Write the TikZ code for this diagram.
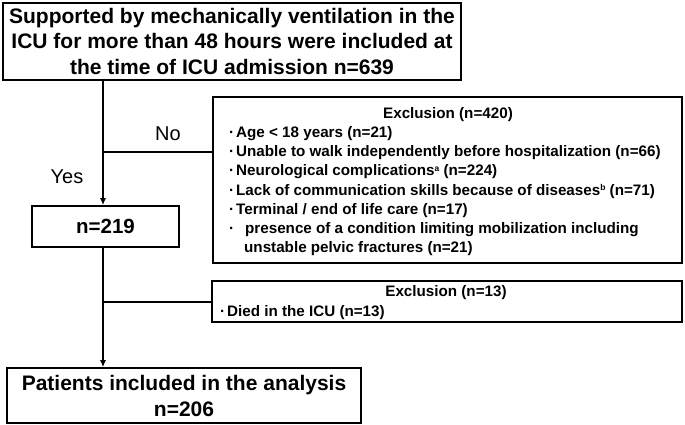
\documentclass[tikz,border=0pt]{standalone}
\usepackage{fontspec}
\setmainfont{Liberation Sans}
\usetikzlibrary{arrows.meta}
\newcommand\bul{\makebox[7pt][l]{·}}
\newcommand\supmark[1]{\raisebox{4.5pt}{\fontsize{8.5}{8.5}\selectfont #1}}
\begin{document}
\begin{tikzpicture}[x=1pt,y=-1pt,
  box/.style={draw, line width=1.7pt, inner sep=0pt},
  conn/.style={line width=1.7pt},
  arr/.style={conn, -{Latex[length=7pt,width=6pt]}},
  lbl/.style={inner sep=0pt, font=\fontsize{20}{24}\selectfont},
  exfont/.style={inner sep=0pt, font=\bfseries\fontsize{15.2}{19.1}\selectfont}]
\useasboundingbox (0,0) rectangle (685,424);

\node[box, minimum width=458pt, minimum height=77pt, align=center,
      font=\bfseries\fontsize{21}{25.5}\selectfont] (top) at (232,41.5)
  {Supported by mechanically ventilation in the\\ICU for more than 48 hours were included at\\the time of ICU admission n=639};

\node[box, minimum width=469pt, minimum height=166pt] (ex1) at (447.5,180) {};
\node[exfont] (ex1title) at (448,115) {Exclusion (n=420)};
\node[exfont, anchor=north west, align=left] (ex1items) at (229,126.5)
  {\bul Age < 18 years (n=21)\\
   \bul Unable to walk independently before hospitalization (n=66)\\
   \bul Neurological complications\supmark{a} (n=224)\\
   \bul Lack of communication skills because of diseases\supmark{b} (n=71)\\
   \bul Terminal / end of life care (n=17)\\
   \bul\hspace{9pt}presence of a condition limiting mobilization including\\
   \hspace*{15pt}unstable pelvic fractures (n=21)};

\node[box, minimum width=147pt, minimum height=41pt,
      font=\bfseries\fontsize{20.5}{24}\selectfont] (n219) at (105.5,226.5) {n=219};

\node[box, minimum width=470pt, minimum height=41pt] (ex2) at (447,301.5) {};
\node[exfont] (ex2title) at (446,293) {Exclusion (n=13)};
\node[exfont, anchor=west] (ex2item) at (220,313) {\bul Died in the ICU (n=13)};

\node[box, minimum width=354pt, minimum height=55pt, align=center,
      font=\bfseries\fontsize{21}{26}\selectfont] (pat) at (184,395.5)
  {Patients included in the analysis\\n=206};

\node[lbl] (no) at (168,134) {No};
\node[lbl] (yes) at (67,177) {Yes};

\coordinate (spine) at (103,0);
\coordinate (j1) at (103,152);
\coordinate (j2) at (103,302);
\draw[arr] (top.south -| spine) -- (n219.north -| spine);
\draw[conn] (j1) -- (j1 -| ex1.west);
\draw[arr] (n219.south -| spine) -- (pat.north -| spine);
\draw[conn] (j2) -- (j2 -| ex2.west);
\end{tikzpicture}
\end{document}
